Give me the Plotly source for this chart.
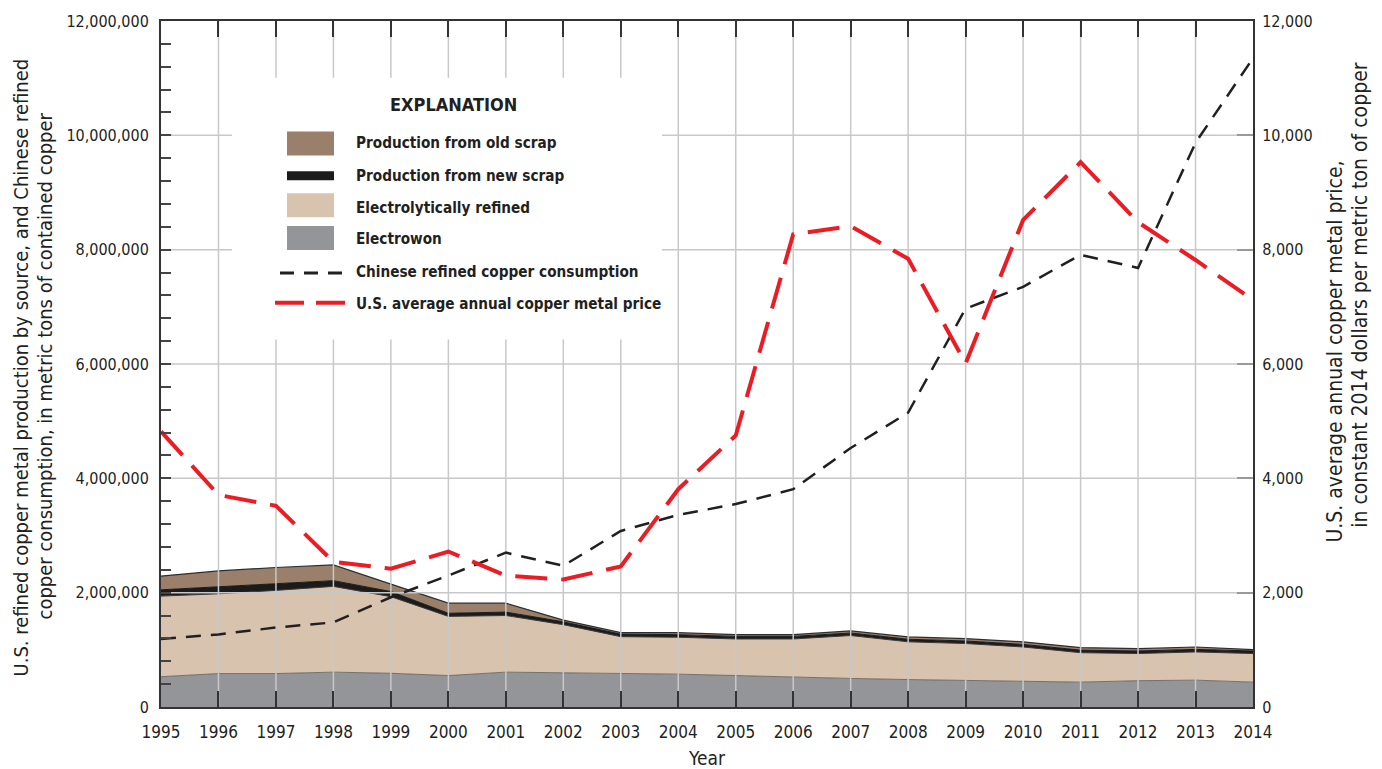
import plotly.graph_objects as go

# U.S. refined copper production by source, Chinese refined copper consumption,
# and the U.S. average annual copper price, 1995-2014.
years = list(range(1995, 2015))

# metric tons of contained copper
electrowon = [530000, 585000, 585000, 610000, 590000, 550000, 610000, 600000, 590000, 575000,
              550000, 520000, 500000, 480000, 470000, 450000, 435000, 460000, 470000, 435000]
electrolytic = [1410000, 1395000, 1455000, 1500000, 1340000, 1035000, 990000, 840000, 640000, 645000,
                640000, 670000, 750000, 660000, 640000, 600000, 515000, 475000, 493000, 500000]
new_scrap = [110000, 120000, 110000, 100000, 90000, 55000, 60000, 50000, 45000, 45000,
             45000, 45000, 45000, 45000, 45000, 45000, 45000, 45000, 45000, 45000]
old_scrap = [240000, 280000, 290000, 275000, 130000, 176000, 156000, 30000, 25000, 35000,
             30000, 30000, 35000, 40000, 40000, 45000, 45000, 40000, 42000, 25000]
china_consumption = [1190000, 1270000, 1390000, 1480000, 1920000, 2300000, 2700000, 2470000, 3080000, 3360000,
                     3550000, 3810000, 4530000, 5150000, 6970000, 7350000, 7910000, 7680000, 9870000, 11350000]
# constant 2014 dollars per metric ton
us_price = [4820, 3710, 3520, 2540, 2420, 2720, 2300, 2230, 2460, 3810,
            4750, 8270, 8410, 7840, 6010, 8520, 9530, 8480, 7820, 7120]

left_ticks = [0, 2000000, 4000000, 6000000, 8000000, 10000000, 12000000]
right_ticks = [0, 2000, 4000, 6000, 8000, 10000, 12000]

FONT = "Liberation Sans Narrow, DejaVu Sans Condensed, Arial Narrow, sans-serif"
TXT = "#231f20"
BROWN = "#9a806b"
TAN = "#d8c3ae"
GRAY = "#939598"
BLACK = "#1b1b1b"
RED = "#ec1c24"
GRID = "#c8c8c8"

# plot area in pixels, for placing the explanation box
L, R, T, B = 161, 1253, 18, 707


def fx(p):
    return (p - L) / (R - L)


def fy(p):
    return (B - p) / (B - T)


fig = go.Figure()

stack_specs = [
    ("Electrowon", electrowon, GRAY, "#5a5a5a", 0.8),
    ("Electrolytically refined", electrolytic, TAN, "#3a3a3a", 1.0),
    ("Production from new scrap", new_scrap, BLACK, BLACK, 1.0),
    ("Production from old scrap", old_scrap, BROWN, "#2e2e2e", 1.2),
]
for name, vals, fill, edge, w in stack_specs:
    fig.add_trace(go.Scatter(
        x=years, y=vals, name=name, stackgroup="prod", mode="lines",
        line=dict(color=edge, width=w), fillcolor=fill, showlegend=False,
        hoverinfo="skip"))

# grid drawn over the filled areas
gx, gy = [], []
for yr in years[1:-1]:
    gx += [yr, yr, None]
    gy += [left_ticks[0], left_ticks[-1], None]
for v in left_ticks[1:-1]:
    gx += [years[0], years[-1], None]
    gy += [v, v, None]
fig.add_trace(go.Scatter(x=gx, y=gy, mode="lines", line=dict(color=GRID, width=1.5),
                         showlegend=False, hoverinfo="skip"))

fig.add_trace(go.Scatter(
    x=years, y=china_consumption, name="Chinese refined copper consumption", mode="lines",
    line=dict(color=TXT, width=2.5, dash="15px,10px"), showlegend=False))
fig.add_trace(go.Scatter(
    x=years, y=us_price, name="U.S. average annual copper metal price", mode="lines",
    line=dict(color=RED, width=4, dash="32px,14px"), yaxis="y2", showlegend=False))

shapes = [
    dict(type="rect", xref="paper", yref="paper", x0=fx(232), x1=fx(662), y0=fy(338), y1=fy(75),
         fillcolor="white", line=dict(width=0), layer="above"),
]
swatches = [(129, 153, BROWN), (169, 178, BLACK), (191, 215, TAN), (224, 248, GRAY)]
for top, bot, col in swatches:
    shapes.append(dict(type="rect", xref="paper", yref="paper", x0=fx(287), x1=fx(334),
                       y0=fy(bot), y1=fy(top), fillcolor=col, line=dict(width=0), layer="above"))
shapes.append(dict(type="line", xref="paper", yref="paper", x0=fx(280), x1=fx(342),
                   y0=fy(271), y1=fy(271), line=dict(color=TXT, width=3, dash="14px,10px"), layer="above"))
shapes.append(dict(type="line", xref="paper", yref="paper", x0=fx(275), x1=fx(345),
                   y0=fy(301), y1=fy(301), line=dict(color=RED, width=4, dash="29px,12px"), layer="above"))

annotations = [
    dict(text="<b>EXPLANATION</b>", x=fx(453), y=fy(102), xref="paper", yref="paper",
         showarrow=False, xanchor="center", yanchor="middle", font=dict(family=FONT, size=18, color=TXT)),
]
legend_labels = [
    ("Production from old scrap", 141),
    ("Production from new scrap", 174),
    ("Electrolytically refined", 206),
    ("Electrowon", 237),
    ("Chinese refined copper consumption", 270),
    ("U.S. average annual copper metal price", 302),
]
for label, ypx in legend_labels:
    annotations.append(dict(text=f"<b>{label}</b>", x=fx(354), y=fy(ypx), xref="paper", yref="paper",
                            showarrow=False, xanchor="left", yanchor="middle",
                            font=dict(family=FONT, size=15.2, color=TXT)))

left_title_font = dict(family=FONT, size=20, color=TXT)
right_title_font = dict(family=FONT, size=21, color=TXT)
annotations += [
    dict(text="U.S. refined copper metal production by source, and Chinese refined",
         x=fx(21), y=fy(366), xref="paper", yref="paper", textangle=-90, showarrow=False,
         xanchor="center", yanchor="middle", font=left_title_font),
    dict(text="copper consumption, in metric tons of contained copper",
         x=fx(45), y=fy(365), xref="paper", yref="paper", textangle=-90, showarrow=False,
         xanchor="center", yanchor="middle", font=left_title_font),
    dict(text="U.S. average annual copper metal price,",
         x=fx(1335), y=fy(350), xref="paper", yref="paper", textangle=-90, showarrow=False,
         xanchor="center", yanchor="middle", font=right_title_font),
    dict(text="in constant 2014 dollars per metric ton of copper",
         x=fx(1360), y=fy(293), xref="paper", yref="paper", textangle=-90, showarrow=False,
         xanchor="center", yanchor="middle", font=right_title_font),
    dict(text="Year", x=0.5, y=fy(758), xref="paper", yref="paper", showarrow=False,
         xanchor="center", yanchor="middle", font=dict(family=FONT, size=19, color=TXT)),
]

fig.update_layout(
    width=1382, height=769,
    margin=dict(l=L, r=1382 - R, t=T, b=769 - B),
    paper_bgcolor="white", plot_bgcolor="white",
    showlegend=False,
    font=dict(family=FONT, color=TXT),
    xaxis=dict(range=[years[0], years[-1]], tickvals=years, ticktext=[str(y) for y in years],
               ticks="inside", ticklen=16, tickwidth=2, tickcolor="#333",
               showline=True, linecolor="#333", linewidth=2, mirror="ticks",
               showgrid=False, zeroline=False, ticklabelstandoff=9,
               tickfont=dict(family=FONT, size=17, color=TXT)),
    yaxis=dict(range=[left_ticks[0], left_ticks[-1]], tickvals=left_ticks, tickformat=",",
               ticks="inside", ticklen=10, tickwidth=1.5, tickcolor="#444",
               minor=dict(dtick=400000, ticks="inside", ticklen=10, tickwidth=1.5,
                          tickcolor="#444", showgrid=False),
               showline=True, linecolor="#333", linewidth=2,
               showgrid=False, zeroline=False, ticklabelstandoff=7,
               tickfont=dict(family=FONT, size=16, color=TXT)),
    yaxis2=dict(range=[right_ticks[0], right_ticks[-1]], tickvals=right_ticks, tickformat=",",
                overlaying="y", side="right",
                ticks="inside", ticklen=16, tickwidth=1.5, tickcolor="#999",
                showline=True, linecolor="#333", linewidth=2,
                showgrid=False, zeroline=False, ticklabelstandoff=4,
                tickfont=dict(family=FONT, size=16, color=TXT)),
    shapes=shapes,
    annotations=annotations,
)

fig.write_html("out.html")
